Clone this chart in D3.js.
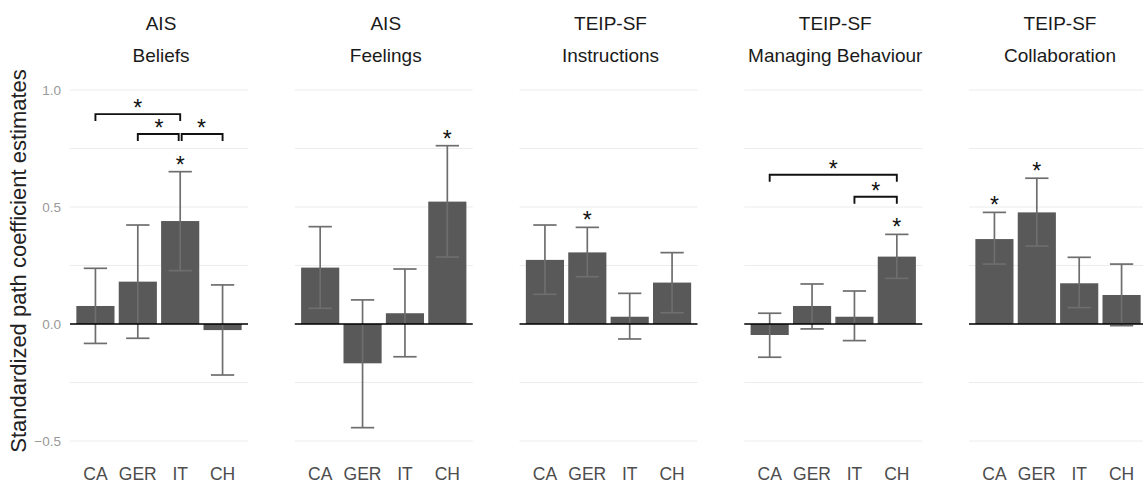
<!DOCTYPE html>
<html>
<head>
<meta charset="utf-8">
<script src="https://cdn.jsdelivr.net/npm/d3@7"></script>
<style>
  body { margin: 0; background: #fff; }
  text { font-family: "Liberation Sans", Arial, sans-serif; }
</style>
</head>
<body>
<div id="chart"></div>
<script>
// data
const countries = ['CA', 'GER', 'IT', 'CH'];
const scaleNames = ['AIS', 'AIS', 'TEIP-SF', 'TEIP-SF', 'TEIP-SF'];
const facetNames = ['Beliefs', 'Feelings', 'Instructions', 'Managing Behaviour', 'Collaboration'];

const estimates = [
    [0.077, 0.181, 0.440, -0.026],
    [0.241, -0.168, 0.046, 0.523],
    [0.274, 0.306, 0.031, 0.177],
    [-0.047, 0.077, 0.031, 0.288],
    [0.363, 0.477, 0.174, 0.124]
];
const ciLow = [
    [-0.083, -0.061, 0.228, -0.218],
    [0.067, -0.443, -0.140, 0.286],
    [0.127, 0.202, -0.064, 0.048],
    [-0.142, -0.021, -0.071, 0.195],
    [0.256, 0.333, 0.070, -0.007]
];
const ciHigh = [
    [0.238, 0.423, 0.651, 0.167],
    [0.416, 0.103, 0.235, 0.762],
    [0.423, 0.413, 0.131, 0.305],
    [0.046, 0.171, 0.141, 0.383],
    [0.477, 0.623, 0.285, 0.256]
];
// significant against zero
const significant = [
    [false, false, true, false],
    [false, false, false, true],
    [false, true, false, false],
    [false, false, false, true],
    [true, true, false, false]
];
// pairwise comparisons: panel, from, to, bracket height
const comparisons = [
    { panel: 0, from: 'CA', to: 'IT', y: 0.897 },
    { panel: 0, from: 'GER', to: 'IT', y: 0.812, nudge: [0, -1.5] },
    { panel: 0, from: 'IT', to: 'CH', y: 0.812, nudge: [1.5, 0] },
    { panel: 3, from: 'CA', to: 'CH', y: 0.638 },
    { panel: 3, from: 'IT', to: 'CH', y: 0.544 }
];
const yTicks = [-0.5, 0, 0.5, 1.0];
const yMinor = [-0.25, 0.25, 0.75];

const width = 1143, height = 483;
const panelLeft = 70, panelWidth = 178, panelGap = 46.75;

const svg = d3.select('#chart').append('svg')
    .attr('width', width)
    .attr('height', height);

const y = d3.scaleLinear().domain([-0.5, 1.0]).range([441, 90]);

const x = d3.scaleBand()
    .domain(countries)
    .range([0, panelWidth])
    .paddingInner(0.1)
    .paddingOuter(0.15);

const capWidth = x.step() * 0.55;

// y axis label
svg.append('text')
    .attr('transform', `translate(26, 261) rotate(-90)`)
    .attr('text-anchor', 'middle')
    .attr('font-size', 22)
    .attr('fill', '#222')
    .text('Standardized path coefficient estimates');

// y tick labels (only on the first panel)
svg.append('g')
    .selectAll('text')
    .data(yTicks)
    .join('text')
    .attr('x', 61)
    .attr('y', d => y(d))
    .attr('dy', '0.35em')
    .attr('text-anchor', 'end')
    .attr('font-size', 13.5)
    .attr('fill', '#999')
    .text(d => d3.format('.1f')(d));

facetNames.forEach((facet, p) => {
    const g = svg.append('g')
        .attr('transform', `translate(${panelLeft + p * (panelWidth + panelGap)},0)`);

    // grid
    g.append('g')
        .selectAll('line')
        .data(yTicks.concat(yMinor))
        .join('line')
        .attr('x1', 0)
        .attr('x2', panelWidth)
        .attr('y1', d => y(d))
        .attr('y2', d => y(d))
        .attr('stroke', '#ececec')
        .attr('stroke-width', 1);

    // titles
    g.append('text')
        .attr('x', panelWidth / 2 + 2)
        .attr('y', 29.5)
        .attr('text-anchor', 'middle')
        .attr('font-size', 19)
        .attr('fill', '#1a1a1a')
        .text(scaleNames[p]);
    g.append('text')
        .attr('x', panelWidth / 2 + 2)
        .attr('y', 62)
        .attr('text-anchor', 'middle')
        .attr('font-size', 19)
        .attr('fill', '#1a1a1a')
        .text(facet);

    const rows = countries.map((c, i) => ({
        country: c,
        est: estimates[p][i],
        lo: ciLow[p][i],
        hi: ciHigh[p][i],
        sig: significant[p][i]
    }));

    // bars
    g.append('g')
        .selectAll('rect')
        .data(rows)
        .join('rect')
        .attr('x', d => x(d.country))
        .attr('width', x.bandwidth())
        .attr('y', d => y(Math.max(0, d.est)))
        .attr('height', d => Math.abs(y(d.est) - y(0)))
        .attr('fill', '#595959');

    // error bars
    const eb = g.append('g')
        .attr('stroke', '#6e6e6e')
        .attr('stroke-width', 1.7)
        .selectAll('g')
        .data(rows)
        .join('g')
        .attr('transform', d => `translate(${x(d.country) + x.bandwidth() / 2},0)`);
    eb.append('line')
        .attr('y1', d => y(d.lo))
        .attr('y2', d => y(d.hi));
    eb.append('line')
        .attr('x1', -capWidth / 2).attr('x2', capWidth / 2)
        .attr('y1', d => y(d.hi)).attr('y2', d => y(d.hi));
    eb.append('line')
        .attr('x1', -capWidth / 2).attr('x2', capWidth / 2)
        .attr('y1', d => y(d.lo)).attr('y2', d => y(d.lo));

    // zero line
    g.append('line')
        .attr('x1', 0)
        .attr('x2', panelWidth)
        .attr('y1', y(0))
        .attr('y2', y(0))
        .attr('stroke', '#000')
        .attr('stroke-width', 1.7);

    // stars over significant estimates
    g.append('g')
        .selectAll('text')
        .data(rows.filter(d => d.sig))
        .join('text')
        .attr('x', d => x(d.country) + x.bandwidth() / 2)
        .attr('y', d => y(d.hi) + 1)
        .attr('text-anchor', 'middle')
        .attr('font-size', 23)
        .attr('fill', '#111')
        .text('*');

    // comparison brackets
    const brackets = g.append('g')
        .selectAll('g')
        .data(comparisons.filter(c => c.panel === p))
        .join('g');
    brackets.append('path')
        .attr('d', c => {
            const n = c.nudge || [0, 0];
            const x1 = x(c.from) + x.bandwidth() / 2 + n[0];
            const x2 = x(c.to) + x.bandwidth() / 2 + n[1];
            const yy = y(c.y);
            return `M${x1},${yy + 7}V${yy}H${x2}V${yy + 7}`;
        })
        .attr('fill', 'none')
        .attr('stroke', '#111')
        .attr('stroke-width', 1.9);
    brackets.append('text')
        .attr('x', c => (x(c.from) + x(c.to)) / 2 + x.bandwidth() / 2)
        .attr('y', c => y(c.y) + 2)
        .attr('text-anchor', 'middle')
        .attr('font-size', 23)
        .attr('fill', '#111')
        .text('*');

    // x tick labels
    g.append('g')
        .selectAll('text')
        .data(countries)
        .join('text')
        .attr('x', d => x(d) + x.bandwidth() / 2)
        .attr('y', 474)
        .attr('dy', '0.35em')
        .attr('text-anchor', 'middle')
        .attr('font-size', 17.5)
        .attr('fill', '#4d4d4d')
        .text(d => d);
});
</script>
</body>
</html>
